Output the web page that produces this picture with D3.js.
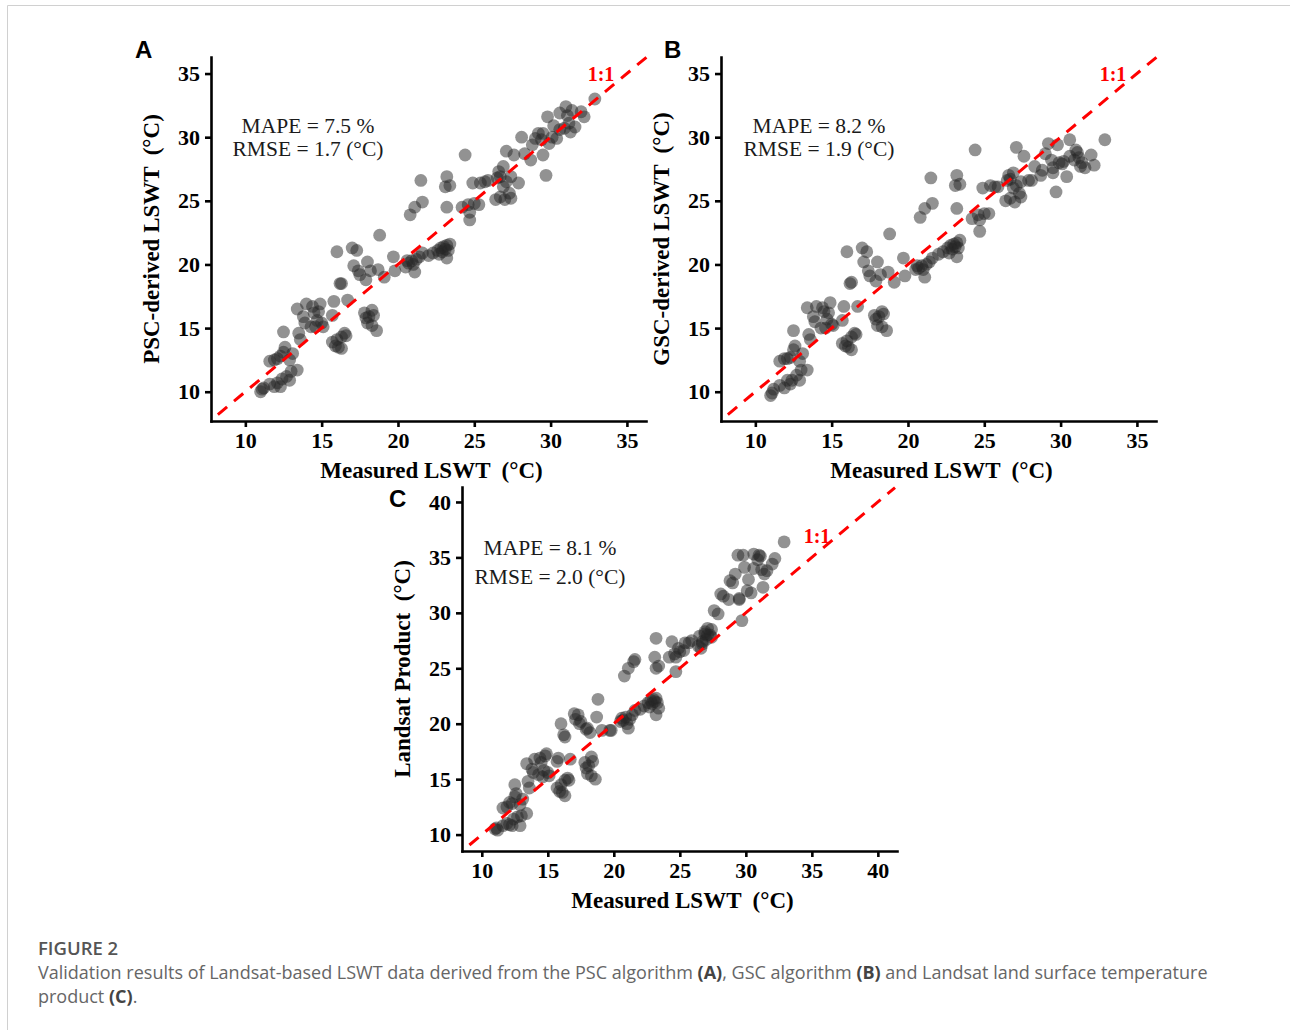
<!DOCTYPE html>
<html>
<head>
<meta charset="utf-8">
<script src="https://cdn.jsdelivr.net/npm/d3@7"></script>
<style>
  body { margin: 0; background: #fff; }
  svg { display: block; }
  .tick text { font-family: "Liberation Serif", "Times New Roman", serif; font-weight: bold; font-size: 22px; fill: #000; }
  .tick line, .domain { stroke: #000; stroke-width: 2.6px; }
  .title { font-family: "Liberation Serif", serif; font-weight: bold; font-size: 23px; fill: #000; white-space: pre; }
  .stats { font-family: "Liberation Serif", serif; font-size: 21.5px; fill: #1a1a1a; }
  .ratio { font-family: "Liberation Serif", serif; font-weight: bold; font-size: 20px; fill: #ff0000; }
  .letter { font-family: "Liberation Sans", Arial, sans-serif; font-weight: bold; font-size: 24px; fill: #000; }
  .caption { font-family: "Open Sans", "Noto Sans", sans-serif; fill: #666; }
</style>
</head>
<body>
<svg width="1290" height="1030"></svg>
<script>
// measured lake surface water temperature (shared by the three panels)
const measured = [
  11.0, 11.2, 11.6, 11.9, 12.1, 12.3, 12.4, 12.7, 13.0, 13.4, 11.1, 12.9,
  11.6, 11.9, 12.1, 12.3, 12.5, 12.6, 12.5, 13.1, 12.9,
  13.4, 13.5, 13.6, 13.8, 13.9, 14.0, 14.3, 14.4, 14.5, 14.7, 14.8, 14.9, 15.0, 15.1, 14.6,
  15.7, 15.9, 16.1, 16.3, 16.5, 16.3, 16.0, 16.6,
  15.8, 15.7, 16.7, 16.2, 16.3, 16.0, 17.0, 17.3,
  17.1, 17.4, 18.0, 18.2, 17.9, 18.7, 19.1, 18.8, 17.5, 19.7,
  17.8, 18.1, 18.3, 18.0, 18.3, 18.6, 17.9, 18.4,
  19.8, 20.5, 20.7, 20.9, 21.0, 21.2, 21.4, 21.1, 20.6, 21.6,
  22.3, 22.6, 22.8, 22.9, 23.0, 23.1, 23.2, 23.3, 22.7, 23.2, 23.4, 22.0,
  20.8, 21.1, 21.6, 21.5, 23.2, 23.1, 23.4, 23.2,
  24.2, 24.6, 24.7, 25.0, 25.3, 24.7, 24.4, 24.9, 25.4,
  25.7, 25.9, 26.5, 26.4, 26.7, 27.0, 27.4, 27.3, 26.9, 26.9, 27.4, 27.1, 27.9, 27.6, 27.1, 26.7, 26.6,
  28.1, 28.3, 28.7, 28.8, 29.0, 29.2, 29.4, 29.5, 29.7, 29.8, 29.5, 29.9, 30.1, 30.4, 30.6,
  30.6, 31.0, 31.1, 31.2, 31.4, 31.3, 31.6, 32.0, 32.2, 32.9, 30.9, 30.2
];
// PSC-derived LSWT (A)
const psc = [
  10.0, 10.3, 10.6, 10.4, 10.7, 10.4, 11.0, 11.2, 11.6, 11.7, 10.2, 10.9,
  12.4, 12.5, 12.6, 12.8, 13.1, 13.5, 14.7, 13.0, 12.5,
  16.5, 14.6, 14.1, 15.9, 15.4, 16.9, 15.1, 16.7, 16.2, 15.6, 16.3, 16.9, 15.4, 15.1, 15.1,
  13.9, 13.6, 13.5, 14.3, 14.6, 13.4, 14.1, 14.4,
  17.1, 16.0, 17.2, 18.5, 18.5, 21.0, 21.3, 21.1,
  19.9, 19.5, 20.2, 19.5, 18.8, 19.6, 19.0, 22.3, 19.2, 20.6,
  16.2, 15.9, 16.4, 15.4, 15.2, 14.8, 15.8, 16.0,
  19.5, 19.8, 20.1, 20.3, 20.0, 20.4, 20.6, 19.4, 20.3, 20.9,
  20.9, 21.1, 21.3, 21.0, 21.4, 21.2, 21.5, 21.1, 20.8, 20.5, 21.6, 20.7,
  23.9, 24.5, 24.9, 26.6, 26.9, 26.1, 26.2, 24.5,
  24.5, 24.7, 24.1, 24.8, 24.7, 23.5, 28.6, 26.4, 26.4,
  26.5, 26.6, 26.8, 25.1, 25.3, 25.1, 25.2, 25.6, 26.1, 27.7, 26.9, 26.5, 26.4, 28.6, 28.9, 26.9, 27.3,
  30.0, 28.7, 28.2, 29.4, 29.9, 30.3, 29.8, 28.6, 27.0, 31.6, 30.3, 29.5, 30.0, 29.9, 30.6,
  31.9, 32.4, 31.7, 31.1, 32.1, 30.4, 30.8, 32.0, 31.6, 33.0, 30.7, 30.9
];
// GSC-derived LSWT (B)
const gsc = [
  9.7, 10.2, 10.5, 10.3, 10.9, 10.6, 10.9, 11.3, 11.7, 11.7, 9.9, 10.9,
  12.4, 12.6, 12.6, 12.7, 13.3, 13.6, 14.8, 13.0, 12.4,
  16.6, 14.5, 14.1, 15.9, 15.5, 16.7, 15.0, 16.6, 16.3, 15.7, 16.2, 17.0, 15.3, 15.2, 15.0,
  13.8, 13.6, 13.5, 14.3, 14.6, 13.3, 14.0, 14.5,
  16.7, 15.6, 16.7, 18.5, 18.6, 21.0, 21.3, 21.0,
  20.2, 19.5, 20.2, 19.2, 18.7, 19.4, 18.6, 22.4, 19.1, 20.5,
  16.0, 15.9, 16.3, 15.2, 15.1, 14.8, 15.7, 16.1,
  19.1, 19.6, 19.7, 19.9, 19.6, 20.0, 20.2, 19.0, 19.9, 20.5,
  21.0, 21.3, 21.5, 21.2, 21.6, 21.4, 21.7, 21.3, 20.9, 20.6, 21.9, 20.8,
  23.7, 24.4, 24.8, 26.8, 27.0, 26.2, 26.3, 24.4,
  23.6, 23.9, 23.5, 24.0, 24.0, 22.6, 29.0, 26.0, 26.2,
  26.1, 26.1, 26.6, 25.0, 25.2, 24.9, 25.3, 25.6, 26.0, 27.2, 26.5, 26.2, 26.6, 28.5, 29.2, 26.7, 27.0,
  26.6, 27.7, 27.0, 27.4, 28.7, 29.5, 28.2, 27.6, 25.7, 29.4, 27.2, 28.0, 27.9, 26.9, 29.8,
  28.5, 29.0, 28.8, 28.4, 28.0, 27.7, 27.6, 28.6, 27.8, 29.8, 28.2, 28.1
];
// Landsat land surface temperature product (C)
const landsat = [
  10.5, 10.4, 10.8, 11.0, 10.9, 10.8, 11.4, 11.6, 11.7, 11.9, 10.6, 10.8,
  12.4, 12.5, 12.9, 12.8, 13.4, 13.7, 14.5, 13.2, 12.7,
  16.4, 14.8, 14.2, 15.9, 15.6, 16.8, 15.4, 16.9, 16.5, 15.8, 17.1, 17.3, 15.6, 15.3, 15.2,
  14.2, 13.9, 13.8, 14.9, 15.1, 13.5, 14.5, 14.9,
  16.9, 16.6, 16.8, 19.0, 18.8, 20.0, 20.9, 20.8,
  20.4, 20.0, 19.6, 19.2, 19.5, 20.6, 19.4, 22.2, 20.2, 19.4,
  16.5, 16.2, 17.0, 15.5, 15.3, 15.0, 16.0, 16.6,
  19.4, 20.2, 20.3, 20.6, 20.0, 20.4, 20.8, 19.6, 20.5, 21.2,
  21.6, 21.9, 22.1, 21.8, 22.2, 22.0, 22.3, 21.9, 21.5, 20.8, 21.4, 21.3,
  24.3, 25.0, 25.8, 25.6, 27.7, 26.0, 25.2, 25.0,
  26.0, 26.3, 26.0, 26.5, 26.6, 24.7, 27.4, 26.8, 27.3,
  27.3, 27.5, 27.9, 27.0, 27.4, 27.6, 27.8, 28.0, 28.3, 28.1, 28.5, 28.0, 29.9, 30.2, 28.6, 27.2, 26.8,
  31.7, 31.5, 31.2, 32.9, 32.7, 33.5, 35.2, 31.3, 29.3, 35.2, 31.2, 34.1, 32.0, 31.8, 35.3,
  34.0, 35.2, 35.1, 33.9, 33.5, 32.3, 33.8, 34.4, 34.9, 36.4, 34.8, 33.0
];

const ticksAB = [10, 15, 20, 25, 30, 35];
const ticksC = [10, 15, 20, 25, 30, 35, 40];

const panels = [
  {letter: 'A', left: 211, top: 57, xDomain: [7.75, 36.25], yDomain: [7.7, 36.3], ticks: ticksAB,
    values: psc, yTitle: 'PSC-derived LSWT  (°C)', stats: ['MAPE = 7.5 %', 'RMSE = 1.7 (°C)'],
    line: [8.2, 36.4], statsPos: [97, 76, 99], ratioPos: [390, 24], letterPos: [-76, 1]},
  {letter: 'B', left: 721, top: 57, xDomain: [7.75, 36.25], yDomain: [7.7, 36.3], ticks: ticksAB,
    values: gsc, yTitle: 'GSC-derived LSWT  (°C)', stats: ['MAPE = 8.2 %', 'RMSE = 1.9 (°C)'],
    line: [8.2, 36.4], statsPos: [98, 76, 99], ratioPos: [392, 24], letterPos: [-57, 1]},
  {letter: 'C', left: 462, top: 487, xDomain: [8.5, 41.45], yDomain: [8.52, 41.35], ticks: ticksC,
    values: landsat, yTitle: 'Landsat Product  (°C)', stats: ['MAPE = 8.1 %', 'RMSE = 2.0 (°C)'],
    line: [9.06, 41.3], statsPos: [88, 68, 97], ratioPos: [355, 56], letterPos: [-73, 20]}
];

const width = 435;
const height = 364;
const svg = d3.select('svg');

// thin frame around the figure
svg.append('path')
  .attr('d', 'M7.5,1030 V5.5 H1290')
  .attr('fill', 'none')
  .attr('stroke', '#d0d0d0')
  .attr('stroke-width', 1);

panels.forEach(p => {
  const g = svg.append('g').attr('transform', `translate(${p.left}, ${p.top})`);
  const x = d3.scaleLinear().domain(p.xDomain).range([0, width]);
  const y = d3.scaleLinear().domain(p.yDomain).range([height, 0]);

  g.selectAll('circle')
    .data(measured.map((m, i) => [m, p.values[i]]))
    .enter()
    .append('circle')
    .attr('cx', d => x(d[0]))
    .attr('cy', d => y(d[1]))
    .attr('r', 6.4)
    .attr('fill', '#262626')
    .attr('fill-opacity', 0.5);

  g.append('line')
    .attr('x1', x(p.line[0]))
    .attr('y1', y(p.line[0]))
    .attr('x2', x(p.line[1]))
    .attr('y2', y(p.line[1]))
    .attr('stroke', '#ff0000')
    .attr('stroke-width', 3)
    .attr('stroke-dasharray', '12,9');

  g.append('g')
    .attr('transform', `translate(0, ${height})`)
    .call(d3.axisBottom(x).tickValues(p.ticks).tickSize(6).tickSizeOuter(0).tickPadding(5));

  g.append('g')
    .call(d3.axisLeft(y).tickValues(p.ticks).tickSize(6).tickSizeOuter(0).tickPadding(5));

  g.selectAll('.domain').attr('stroke-linecap', 'square');

  g.append('text')
    .attr('class', 'title')
    .attr('x', width / 2 + 3)
    .attr('y', height + 57)
    .attr('text-anchor', 'middle')
    .text('Measured LSWT  (°C)');

  g.append('text')
    .attr('class', 'title')
    .attr('transform', `translate(-52, ${height / 2}) rotate(-90)`)
    .attr('text-anchor', 'middle')
    .text(p.yTitle);

  g.selectAll('.stats')
    .data(p.stats)
    .enter()
    .append('text')
    .attr('class', 'stats')
    .attr('x', p.statsPos[0])
    .attr('y', (d, i) => i === 0 ? p.statsPos[1] : p.statsPos[2])
    .attr('text-anchor', 'middle')
    .text(d => d);

  g.append('text')
    .attr('class', 'ratio')
    .attr('x', p.ratioPos[0])
    .attr('y', p.ratioPos[1])
    .attr('text-anchor', 'middle')
    .text('1:1');

  g.append('text')
    .attr('class', 'letter')
    .attr('x', p.letterPos[0])
    .attr('y', p.letterPos[1])
    .text(p.letter);
});

// caption
const cap = svg.append('g').attr('class', 'caption');
cap.append('text')
  .attr('x', 38).attr('y', 955)
  .style('font-size', '18.5px').style('font-weight', 600).attr('fill', '#555')
  .text('FIGURE 2');

const line1 = cap.append('text').attr('x', 38).attr('y', 979).style('font-size', '18px');
[['Validation results of Landsat-based LSWT data derived from the PSC algorithm ', false], ['(A)', true],
  [', GSC algorithm ', false], ['(B)', true], [' and Landsat land surface temperature', false]]
  .forEach(([t, b]) => line1.append('tspan').style('font-weight', b ? 700 : 400).attr('fill', b ? '#444' : '#666').text(t));

const line2 = cap.append('text').attr('x', 38).attr('y', 1003).style('font-size', '18px');
[['product ', false], ['(C)', true], ['.', false]]
  .forEach(([t, b]) => line2.append('tspan').style('font-weight', b ? 700 : 400).attr('fill', b ? '#444' : '#666').text(t));
</script>
</body>
</html>
